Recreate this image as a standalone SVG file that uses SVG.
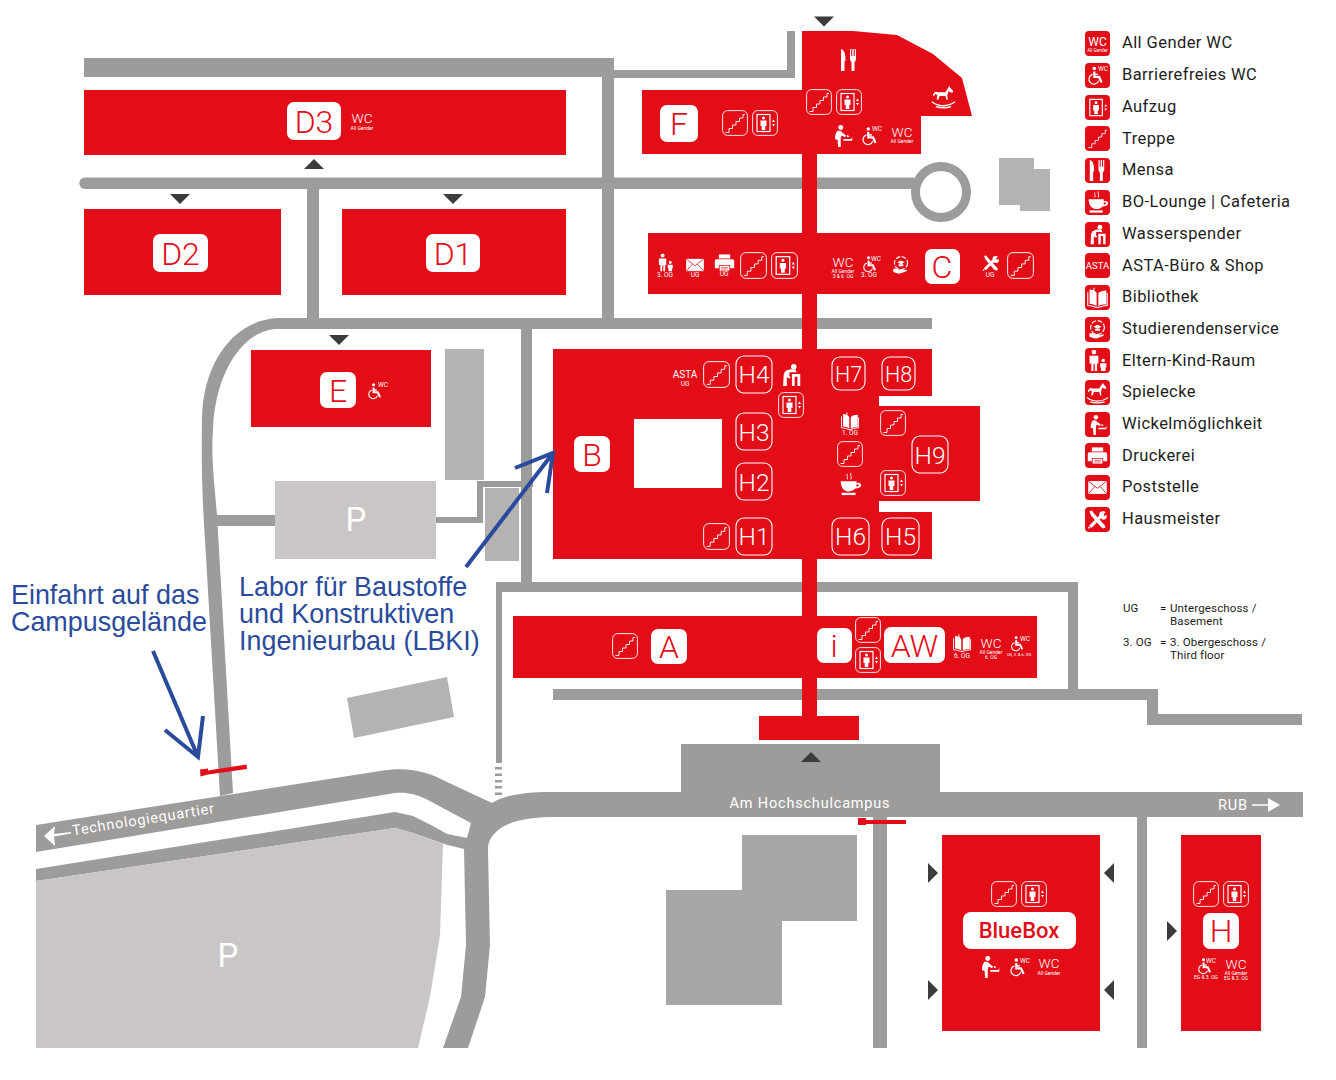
<svg xmlns="http://www.w3.org/2000/svg" width="1336" height="1080" viewBox="0 0 1336 1080">
<style>
text{font-family:"Roboto","Liberation Sans",sans-serif}
.red{fill:#e30d18}
.rd{fill:#9d9c9b}
.bd{fill:#b5b3b2}
.lot{fill:#c9c6c5}
.tri{fill:#3c3c3b}
.bg{fill:#fff}
.bt{fill:#e30d18;font-size:32px;text-anchor:middle;font-weight:300}
.ol{fill:none;stroke:#fff;stroke-width:1.1}
.ht{fill:#fff;font-size:24.500px;text-anchor:middle;font-weight:300}
.hs{fill:#fff;font-size:21.500px;text-anchor:middle;font-weight:300}
.w{fill:#fff;text-anchor:middle}
.wc{font-size:13.500px;font-weight:300}
.s5{font-size:5px}
.s6{font-size:6.500px}
.lg{fill:#1d1d1b;font-size:16.500px;letter-spacing:.42px}
.nt{fill:#1d1d1b;font-size:11.500px;letter-spacing:.15px}
.bl{fill:#2a4b9b;font-family:"Liberation Sans",Arial,sans-serif;font-size:26.900px}
.ar{fill:none;stroke:#2a4b9b;stroke-width:4}
.rl{fill:#fff;font-size:14.500px;letter-spacing:.8px}
</style>
<defs>
<symbol id="box" viewBox="0 0 26 26"><rect x=".6" y=".6" width="24.800" height="24.800" rx="5" fill="none" stroke="#fff" stroke-width=".9"/></symbol>
<symbol id="steps" viewBox="0 0 26 26"><path d="M3.500 22.500H7V18.500H10.500V15H14V11.500H17.500V8H21V4.500H23" fill="none" stroke="#fff" stroke-width=".9"/></symbol>
<symbol id="lift" viewBox="0 0 26 26"><rect x="5" y="4.500" width="13" height="17" fill="none" stroke="#fff" stroke-width="1.200"/><circle cx="11.500" cy="8" r="1.500" fill="#fff"/><path d="M8.500 10.500h6v5.500h-1.200v4h-3.600v-4H8.500z" fill="#fff"/><path d="M21.500 9.500l1.500 2.500h-3zM21.500 16.500l1.500-2.500h-3z" fill="#fff"/></symbol>
<symbol id="fork" viewBox="0 0 26 26"><path d="M5 2C8.500 3 9.500 7 9.500 14H8.500V24H5zM14 2h1.200v7h1.100V2h1.400v7h1.100V2H20v10c0 2-1.500 2.500-1.500 3.500V24h-3v-8.500c0-1-1.500-1.500-1.500-3.500z" fill="#fff"/></symbol>
<symbol id="horse" viewBox="0 0 26 26"><path d="M19 2l1 2 3 3-.5 2-2.500-.5-2-1-1 5 .5 4H16l-1-4H9l-1.500 4H6l.5-5-2-1-2 2.500-.5-2L4.500 8l3 .5H15z" fill="#fff"/><path d="M1 18.500C7 24 18 24 25 18.500M5 23.500c5 1.500 11 1.500 16 0" fill="none" stroke="#fff" stroke-width="1.400"/></symbol>
<symbol id="chg" viewBox="0 0 26 26"><circle cx="11" cy="4" r="2.800" fill="#fff"/><path d="M7 8c3-1 5 0 6 2l4 3-1 2-4-2-1 3v10H8l-.5-8-3-1c0-4 1-7 2.500-9z" fill="#fff"/><path d="M14 17h9l1-3v5H14zM18 12l3 2-3 1z" fill="#fff"/></symbol>
<symbol id="wheel" viewBox="0 0 26 26"><circle cx="10" cy="3.500" r="2.400" fill="#fff"/><path d="M10 7.500V15H16.500L20 22.500" fill="none" stroke="#fff" stroke-width="3"/><path d="M10 11.500h5" stroke="#fff" stroke-width="2"/><path d="M7.500 11.500a6.800 6.800 0 1 0 8.500 8.500" fill="none" stroke="#fff" stroke-width="1.700"/></symbol>
<symbol id="coffee" viewBox="0 0 26 26"><path d="M3 10H20V12C23.500 11 25.500 13 25 15C24.500 17 21.500 18 18.500 18C17 20 15 21 11.500 21C6 21 3 16 3 10ZM20 13.500V16C22 16 22.800 14.500 22.500 14C22 13.300 21 13.300 20 13.500Z" fill="#fff" fill-rule="evenodd"/><path d="M4 22.500H19V25H4z" fill="#fff"/><path d="M10 2c-1 2 1 3 0 6M14 1c-1 2 1 4 0 7" fill="none" stroke="#fff" stroke-width="1"/></symbol>
<symbol id="water" viewBox="0 0 26 26"><circle cx="16" cy="4" r="3" fill="#fff"/><path d="M7 9c3-2 6-2.500 11-2l1 3H11.500L11 14l1.500 1-1 2-3-1.500L8.500 25H4.500l.5-11c0-2 1-4 2-5z" fill="#fff"/><path d="M14 12h9v13h-3V15h-3v10h-3z" fill="#fff"/></symbol>
<symbol id="book" viewBox="0 0 26 26"><path d="M12 8C10 5 7 4 4 4V20C7 20 10 21 12 23ZM14 8C16 6 19 5 23 5V21C19 21 16 21 14 23Z" fill="#fff"/><path d="M9 2v4M2 7v15c3 0 6 .5 9 2h4c3-1.500 6-2 9-2V8" fill="none" stroke="#fff" stroke-width="1.200"/></symbol>
<symbol id="serv" viewBox="0 0 26 26"><circle cx="13" cy="10.500" r="8.500" fill="none" stroke="#fff" stroke-width="1.500" stroke-dasharray="6 2"/><path d="M8 9.500l5-2.500 5 2.500-5 2.500zM10 12v2.500h6V12" fill="#fff"/><path d="M3 18c3-1 5 0 7 1h5c1 0 1 2 0 2h-3l8-2c1 0 1 1.500 0 2l-8 3c-3 .5-6-1-9-2z" fill="#fff"/></symbol>
<symbol id="fam" viewBox="0 0 26 26"><circle cx="9" cy="3.500" r="2.700" fill="#fff"/><path d="M4 7.500h10v9h-1.500V25H10v-8H8.500v8H6V16.500H4z" fill="#fff"/><circle cx="19.500" cy="13" r="2" fill="#fff"/><path d="M16 16h7v5h-1v4h-5v-4h-1z" fill="#fff"/></symbol>
<symbol id="print" viewBox="0 0 26 26"><path d="M6 3h14v5H6z" fill="#fff"/><path d="M3 9h20a2 2 0 0 1 2 2v9h-5v-4H6v4H1v-9a2 2 0 0 1 2-2z" fill="#fff"/><path d="M7 17h12v6H7z" fill="#fff"/><path d="M9 19h8M9 21h8" stroke="#e30d18" stroke-width=".8"/></symbol>
<symbol id="mail" viewBox="0 0 26 26"><rect x="1.500" y="5" width="23" height="16" fill="#fff"/><path d="M1.500 5L13 14 24.500 5M1.500 21L10 11.500M24.500 21L16 11.500" fill="none" stroke="#e30d18" stroke-width="1"/></symbol>
<symbol id="tools" viewBox="0 0 26 26"><path d="M4 22L20 6" stroke="#fff" stroke-width="4"/><path d="M16 4c3-2 6-1 7 0l-3 3 1 2 3-2c1 3 0 5-2 6-2 .5-4 0-6-3-1-2-1-4 0-6z" fill="#fff"/><path d="M3 3l3-1 3 4 13 14 1 3-3 1-3-2L5 8z" fill="#fff"/><path d="M3 24l-1-2" stroke="#fff" stroke-width="2"/></symbol>
<path id="dn" d="M-10-5H10L0 5Z"/>
<path id="up" d="M-10 5H10L0-5Z"/>
<path id="rt" d="M-5-10L5 0-5 10Z"/>
<path id="lt" d="M5-10L-5 0 5 10Z"/>
</defs>

<g id="roads">
<path class="rd" d="M84 58H614V70H787V31H795V78H614V318H602V77H84Z"/>
<path class="rd" d="M85 177.500H914V189H85A5.750 5.750 0 0 1 85 177.500Z"/>
<circle cx="941" cy="192" r="25.500" fill="none" stroke="#9d9c9b" stroke-width="9"/>
<rect class="rd" x="307" y="185" width="12" height="135"/>
<path class="rd" d="M932 318H278C235 320 204 360 202 417C201 470 203 510 205 540L220 796 233 793 217 515C214 480 211 455 213 430C215 370 245 329 278 329H932Z"/>
<rect class="rd" x="216" y="515" width="60" height="11"/>
<path class="rd" d="M436 517H477V481H533V487H483V523H436Z"/>
<path class="rd" d="M521 329H532V582H1078V689H1158V714H1302V725H1147V700H553V689H1068V592H502V763H496V582H521Z"/>
<path class="rd" d="M495 767h7v2.500h-7zM495 773.500h7v2.500h-7zM495 780h7v2.500h-7zM495 786h7v2.500h-7zM495 792.500h7v2.500h-7z"/>
<path class="rd" d="M36 825L380 771C410 766 430 773 447 782L492 803C505 795 525 792 550 792H681V744H940V792H1303V817H560C530 817 510 820 497 831C490 838 488 842 488 850L490 945 485 997 468 1048H443L461 997 466 945 464 849 444 844 413 833 395 828 36 881V869L395 812 413 816 433 826 447 834 467 838 471 823 426 799C415 794 407 792 395 793L36 852Z"/>
<rect class="rd" x="873" y="817" width="14" height="231"/>
<rect class="rd" x="1137" y="817" width="10" height="231"/>
</g>

<g id="buildings-grey">
<rect class="bd" x="445" y="349" width="39" height="131"/>
<rect class="bd" x="485" y="488" width="34" height="73"/>
<path class="bd" d="M347 698L447 677 454 717 354 738Z"/>
<path class="bd" d="M999 158H1034V169H1050V211H1020V205H999Z"/>
<path fill="#a9a7a6" d="M742 835H857V921H782V1005H666V890H742Z"/>
</g>

<g id="parking-upper"><rect class="lot" x="275" y="481" width="161" height="78"/><text x="356" y="531" class="w" font-size="33" font-weight="400">P</text></g>
<g id="parking-lower"><path class="lot" d="M36 881L395 828 413 833 443 844 440 935 430 997 418 1048H36Z"/><text x="228" y="967" class="w" font-size="33" font-weight="400">P</text></g>

<g id="building-spine"><rect class="red" x="802" y="150" width="15" height="570"/><rect class="red" x="759" y="716" width="100" height="24"/></g>

<g id="building-D3"><rect class="red" x="84" y="90" width="482" height="65"/><rect class="bg" x="287" y="102" width="54" height="38" rx="7"/><text class="bt" x="314" y="133">D3</text><text class="w wc" x="362" y="123">WC</text><text class="w s5" x="362" y="130">All Gender</text></g>
<g id="building-D2"><rect class="red" x="84" y="209" width="197" height="86"/><rect class="bg" x="153" y="234" width="55" height="38" rx="7"/><text class="bt" x="180.500" y="265">D2</text></g>
<g id="building-D1"><rect class="red" x="342" y="209" width="224" height="86"/><rect class="bg" x="426" y="234" width="54" height="38" rx="7"/><text class="bt" x="453" y="265">D1</text></g>
<g id="building-E"><rect class="red" x="251" y="350" width="180" height="77"/><rect class="bg" x="320" y="372" width="36" height="36" rx="7"/><text class="bt" x="338" y="402">E</text><use href="#wheel" x="367" y="381" width="17" height="20"/><text class="w s6" x="383" y="387">WC</text></g>

<g id="building-F"><path class="red" d="M642 90H802V31H853L897 35 933 54 962 78 972 116H921V154H642Z"/><rect class="bg" x="660" y="105" width="38" height="37" rx="7"/><text class="bt" x="679" y="135">F</text>
<use href="#box" x="722" y="110" width="26" height="26"/><use href="#steps" x="722" y="110" width="26" height="26"/><use href="#box" x="752" y="110" width="26" height="26"/><use href="#lift" x="752" y="110" width="26" height="26"/>
<use href="#box" x="806" y="89" width="26" height="26"/><use href="#steps" x="806" y="89" width="26" height="26"/><use href="#box" x="836" y="89" width="26" height="26"/><use href="#lift" x="836" y="89" width="26" height="26"/>
<use href="#fork" x="836" y="47" width="26" height="26"/><use href="#horse" x="931" y="84" width="25" height="25"/><use href="#chg" x="831" y="124" width="23" height="23"/><use href="#wheel" x="861" y="126" width="19" height="20"/><text class="w s6" x="877" y="131">WC</text><text class="w wc" x="902" y="137">WC</text><text class="w s5" x="902" y="143">All Gender</text></g>

<g id="building-C"><rect class="red" x="648" y="233" width="402" height="61"/><rect class="bg" x="925" y="249" width="35" height="35" rx="7"/><text class="bt" x="942" y="278">C</text>
<use href="#fam" x="656" y="253" width="19" height="19"/><text class="w s6" x="665" y="277">3. OG</text><use href="#mail" x="685" y="255" width="20" height="20"/><text class="w s6" x="695" y="277">UG</text><use href="#print" x="714" y="252" width="21" height="21"/><text class="w s6" x="724" y="276">UG</text>
<use href="#box" x="740" y="252" width="27" height="27"/><use href="#steps" x="740" y="252" width="27" height="27"/><use href="#box" x="771" y="252" width="27" height="27"/><use href="#lift" x="771" y="252" width="27" height="27"/>
<text class="w wc" x="843" y="267">WC</text><text class="w s5" x="843" y="273">All Gender</text><text class="w s5" x="843" y="278">3 &amp; 6. OG</text>
<use href="#wheel" x="862" y="255" width="17" height="18"/><text class="w s6" x="876" y="261">WC</text><text class="w s6" x="869" y="277">3. OG</text><use href="#serv" x="891" y="255" width="20" height="20"/>
<use href="#tools" x="982" y="254" width="18" height="18"/><text class="w s6" x="990" y="277">UG</text><use href="#box" x="1007" y="252" width="27" height="27"/><use href="#steps" x="1007" y="252" width="27" height="27"/></g>

<g id="building-B"><path class="red" fill-rule="evenodd" d="M553 349H932V396H879V406H980V501H879V512H932V559H553ZM634 419V488H722V419Z"/><rect class="bg" x="574" y="436" width="36" height="36" rx="7"/><text class="bt" x="592" y="466">B</text>
<g class="ol"><rect x="736" y="356" width="36" height="37" rx="8"/><rect x="736" y="413" width="36" height="37" rx="8"/><rect x="736" y="463" width="36" height="37" rx="8"/><rect x="736" y="518" width="36" height="37" rx="8"/><rect x="832" y="357" width="33" height="33" rx="8"/><rect x="882" y="357" width="33" height="33" rx="8"/><rect x="832" y="518" width="37" height="37" rx="8"/><rect x="882" y="518" width="37" height="37" rx="8"/><rect x="912" y="436" width="36" height="37" rx="8"/></g>
<text class="ht" x="754" y="383">H4</text><text class="ht" x="754" y="441">H3</text><text class="ht" x="754" y="491">H2</text><text class="ht" x="754" y="545">H1</text><text class="hs" x="848.500" y="381.500">H7</text><text class="hs" x="898.500" y="381.500">H8</text><text class="ht" x="850.500" y="545">H6</text><text class="ht" x="900.500" y="545">H5</text><text class="ht" x="930" y="463.500">H9</text>
<text class="w" font-size="10" x="685" y="378">ASTA</text><text class="w s6" x="685" y="386">UG</text>
<use href="#box" x="703" y="361" width="27" height="27"/><use href="#steps" x="703" y="361" width="27" height="27"/><use href="#box" x="703" y="523" width="27" height="27"/><use href="#steps" x="703" y="523" width="27" height="27"/>
<use href="#box" x="778" y="392" width="26" height="26"/><use href="#lift" x="778" y="392" width="26" height="26"/><use href="#water" x="779" y="362" width="24" height="26"/>
<use href="#book" x="840" y="411" width="20" height="20"/><text class="w s6" x="850" y="435">1. OG</text><use href="#box" x="880" y="410" width="26" height="26"/><use href="#steps" x="880" y="410" width="26" height="26"/><use href="#box" x="837" y="441" width="26" height="26"/><use href="#steps" x="837" y="441" width="26" height="26"/><use href="#coffee" x="838" y="472" width="24" height="24"/><use href="#box" x="880" y="470" width="26" height="26"/><use href="#lift" x="880" y="470" width="26" height="26"/></g>

<g id="building-A"><rect class="red" x="513" y="616" width="524" height="62"/><rect class="bg" x="651" y="629" width="36" height="35" rx="7"/><text class="bt" x="669" y="658">A</text><rect class="bg" x="817" y="628" width="35" height="35" rx="7"/><text class="bt" x="834" y="657">i</text><rect class="bg" x="884" y="627" width="61" height="36" rx="7"/><text class="bt" x="914.500" y="657">AW</text>
<use href="#box" x="612" y="633" width="26" height="26"/><use href="#steps" x="612" y="633" width="26" height="26"/><use href="#box" x="855" y="617" width="26" height="26"/><use href="#steps" x="855" y="617" width="26" height="26"/><use href="#box" x="855" y="647" width="26" height="26"/><use href="#lift" x="855" y="647" width="26" height="26"/>
<use href="#book" x="952" y="633" width="20" height="20"/><text class="w s6" x="962" y="658">6. OG</text><text class="w wc" x="991" y="648">WC</text><text class="w s5" x="991" y="654">All Gender</text><text class="w s5" x="991" y="658.500">6. OG</text><use href="#wheel" x="1010" y="635" width="16" height="17"/><text class="w s6" x="1025" y="641">WC</text><text class="w" font-size="4" x="1019" y="656">UG, 3. &amp; 6. OG</text></g>

<g id="building-BlueBox"><rect class="red" x="942" y="835" width="158" height="196"/><rect class="bg" x="963" y="912" width="113" height="37" rx="8"/><text x="1019" y="938" fill="#e30d18" font-size="22" font-weight="500" text-anchor="middle">BlueBox</text>
<use href="#box" x="991" y="881" width="26" height="26"/><use href="#steps" x="991" y="881" width="26" height="26"/><use href="#box" x="1021" y="881" width="26" height="26"/><use href="#lift" x="1021" y="881" width="26" height="26"/>
<use href="#chg" x="978" y="955" width="23" height="23"/><use href="#wheel" x="1009" y="957" width="19" height="20"/><text class="w s6" x="1025" y="963">WC</text><text class="w wc" x="1049" y="968">WC</text><text class="w s5" x="1049" y="975">All Gender</text></g>

<g id="building-H"><rect class="red" x="1181" y="835" width="80" height="196"/><rect class="bg" x="1203" y="913" width="36" height="36" rx="7"/><text class="bt" x="1221" y="942">H</text>
<use href="#box" x="1193" y="881" width="26" height="26"/><use href="#steps" x="1193" y="881" width="26" height="26"/><use href="#box" x="1223" y="881" width="26" height="26"/><use href="#lift" x="1223" y="881" width="26" height="26"/>
<use href="#wheel" x="1197" y="957" width="17" height="18"/><text class="w s6" x="1211" y="963">WC</text><text class="w s5" x="1206" y="979">EG &amp; 3. OG</text><text class="w wc" x="1236" y="969">WC</text><text class="w s5" x="1236" y="974.500">All Gender</text><text class="w s5" x="1236" y="979.500">EG &amp; 3. OG</text></g>

<g id="entrances" class="tri">
<use href="#dn" x="824" y="21.500"/><use href="#up" x="314" y="164"/><use href="#dn" x="180" y="199"/><use href="#dn" x="453" y="199"/><use href="#dn" x="339" y="340"/><use href="#up" x="811" y="757"/>
<use href="#rt" x="933" y="873"/><use href="#rt" x="933" y="990"/><use href="#lt" x="1109" y="873"/><use href="#lt" x="1109" y="990"/><use href="#rt" x="1172" y="931"/>
</g>

<g id="barriers">
<path class="red" d="M200 769.500L208 768.500V770.500L246.500 764.500 247 769 208 774.500 200.500 776.500Z"/>
<path class="red" d="M858 818H866V820H906V824H866V825H858Z"/>
</g>

<g id="road-labels">
<text class="rl" x="810" y="807.500" text-anchor="middle">Am Hochschulcampus</text>
<text class="rl" x="1218" y="810">RUB</text>
<path d="M1252 805H1270" stroke="#fff" stroke-width="1.500"/><path d="M1268 798L1280 805 1268 812Z" fill="#fff"/>
<text class="rl" transform="translate(73 835.500) rotate(-9)">Technologiequartier</text>
<path d="M44 836L55 826 54 834 71 832 71 833.500 54 836.500 55 846Z" fill="#fff"/>
</g>

<g id="annotations">
<text class="bl" x="11" y="604">Einfahrt auf das</text><text class="bl" x="11" y="631">Campusgelände</text>
<text class="bl" x="239" y="596">Labor für Baustoffe</text><text class="bl" x="239" y="623">und Konstruktiven</text><text class="bl" x="239" y="650">Ingenieurbau (LBKI)</text>
<path class="ar" d="M153 651L198 757M165 730L198 757 203 716"/>
<path class="ar" d="M466 567L553 453M515 468L553 453 547 493"/>
</g>

<g id="legend">
<g id="lg-wc"><rect class="red" x="1085" y="31" width="25" height="25" rx="4"/><text class="w" font-size="12" x="1097.500" y="45.500">WC</text><text class="w" font-size="4.500" x="1097.500" y="51.500">All Gender</text><text class="lg" x="1122" y="48">All Gender WC</text></g>
<g id="lg-bf"><rect class="red" x="1085" y="63" width="25" height="25" rx="4"/><use href="#wheel" x="1087" y="65" width="19" height="21"/><text class="w" font-size="6.500" x="1103" y="71">WC</text><text class="lg" x="1122" y="80">Barrierefreies WC</text></g>
<g id="lg-lift"><rect class="red" x="1085" y="95" width="25" height="25" rx="4"/><use href="#lift" x="1085" y="95" width="25" height="25"/><text class="lg" x="1122" y="112">Aufzug</text></g>
<g id="lg-tr"><rect class="red" x="1085" y="126" width="25" height="25" rx="4"/><use href="#steps" x="1085" y="126" width="25" height="25"/><text class="lg" x="1122" y="144">Treppe</text></g>
<g id="lg-me"><rect class="red" x="1085" y="158" width="25" height="25" rx="4"/><use href="#fork" x="1085" y="158" width="25" height="25"/><text class="lg" x="1122" y="175">Mensa</text></g>
<g id="lg-co"><rect class="red" x="1085" y="190" width="25" height="25" rx="4"/><use href="#coffee" x="1086" y="190" width="23" height="24"/><text class="lg" x="1122" y="207">BO-Lounge | Cafeteria</text></g>
<g id="lg-wa"><rect class="red" x="1085" y="222" width="25" height="25" rx="4"/><use href="#water" x="1087" y="223" width="21" height="23"/><text class="lg" x="1122" y="239">Wasserspender</text></g>
<g id="lg-as"><rect class="red" x="1085" y="253" width="25" height="25" rx="4"/><text class="w" font-size="9.500" x="1097.500" y="269">ASTA</text><text class="lg" x="1122" y="271">ASTA-Büro &amp; Shop</text></g>
<g id="lg-bi"><rect class="red" x="1085" y="285" width="25" height="25" rx="4"/><use href="#book" x="1086" y="286" width="23" height="23"/><text class="lg" x="1122" y="302">Bibliothek</text></g>
<g id="lg-se"><rect class="red" x="1085" y="317" width="25" height="25" rx="4"/><use href="#serv" x="1087" y="319" width="21" height="21"/><text class="lg" x="1122" y="334">Studierendenservice</text></g>
<g id="lg-fa"><rect class="red" x="1085" y="348" width="25" height="25" rx="4"/><use href="#fam" x="1086" y="349" width="23" height="23"/><text class="lg" x="1122" y="366">Eltern-Kind-Raum</text></g>
<g id="lg-sp"><rect class="red" x="1085" y="380" width="25" height="25" rx="4"/><use href="#horse" x="1086" y="381" width="23" height="23"/><text class="lg" x="1122" y="397">Spielecke</text></g>
<g id="lg-wi"><rect class="red" x="1085" y="412" width="25" height="25" rx="4"/><use href="#chg" x="1087" y="414" width="21" height="21"/><text class="lg" x="1122" y="429">Wickelmöglichkeit</text></g>
<g id="lg-dr"><rect class="red" x="1085" y="443" width="25" height="25" rx="4"/><use href="#print" x="1087" y="445" width="21" height="21"/><text class="lg" x="1122" y="461">Druckerei</text></g>
<g id="lg-po"><rect class="red" x="1085" y="475" width="25" height="25" rx="4"/><use href="#mail" x="1087" y="477" width="21" height="21"/><text class="lg" x="1122" y="492">Poststelle</text></g>
<g id="lg-ha"><rect class="red" x="1085" y="507" width="25" height="25" rx="4"/><use href="#tools" x="1087" y="509" width="21" height="21"/><text class="lg" x="1122" y="524">Hausmeister</text></g>
</g>

<g id="notes">
<text class="nt" x="1123" y="612">UG</text><text class="nt" x="1160" y="612">=</text><text class="nt" x="1170" y="612">Untergeschoss /</text><text class="nt" x="1170" y="625">Basement</text>
<text class="nt" x="1123" y="646">3. OG</text><text class="nt" x="1160" y="646">=</text><text class="nt" x="1170" y="646">3. Obergeschoss /</text><text class="nt" x="1170" y="659">Third floor</text>
</g>
</svg>
